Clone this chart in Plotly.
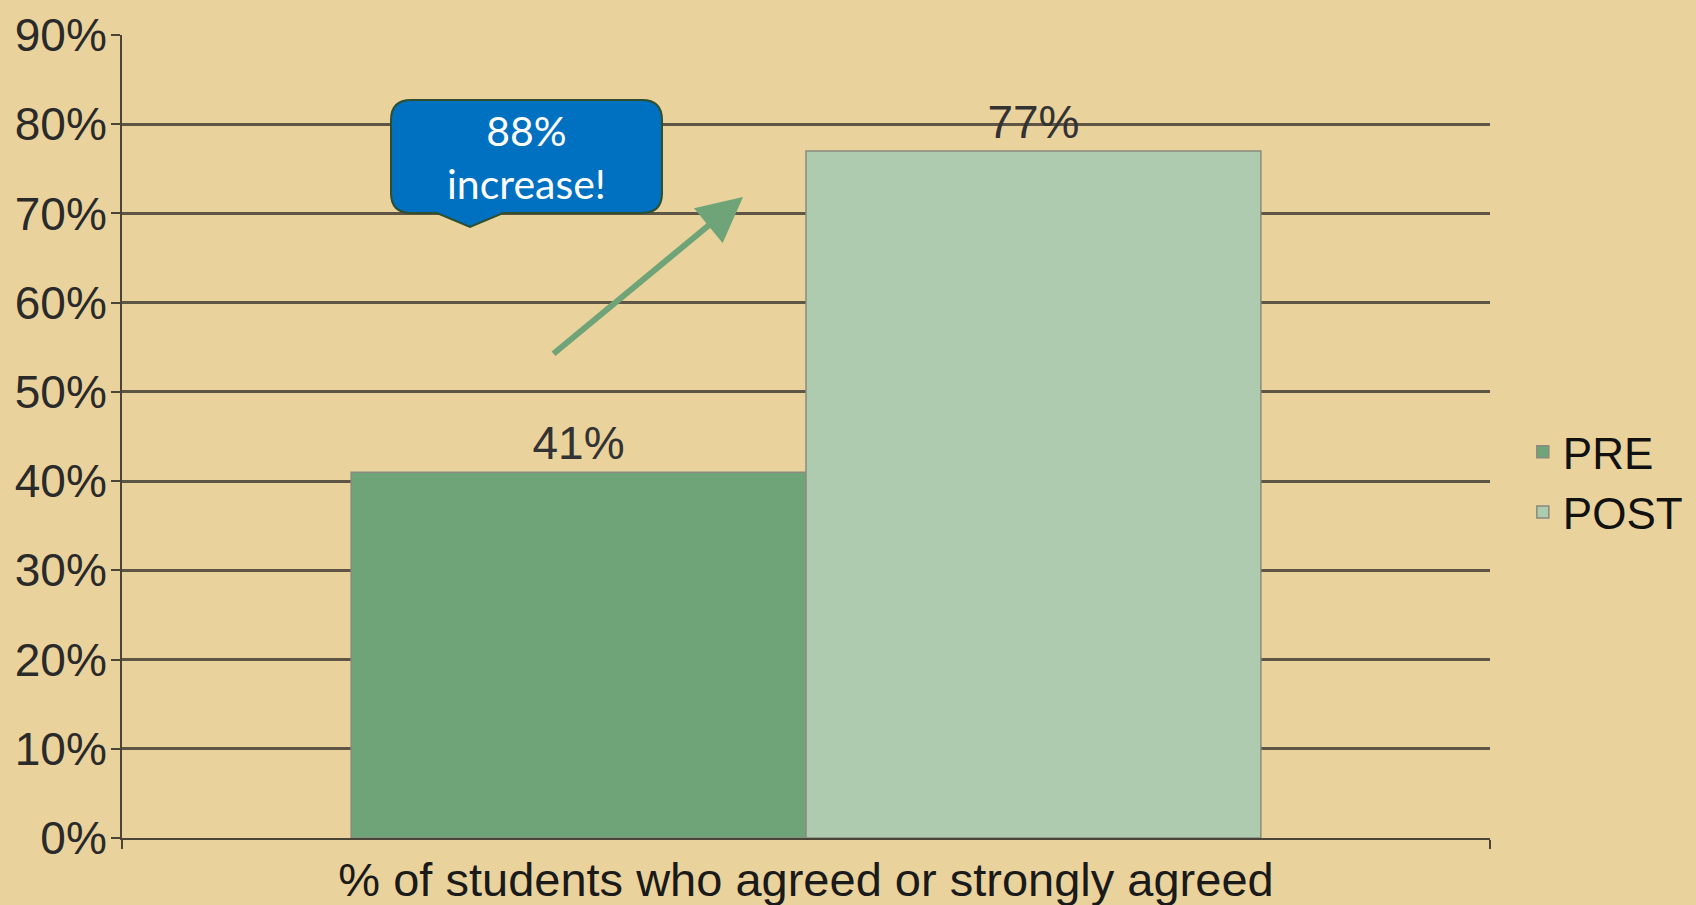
import plotly.graph_objects as go

categories = ["% of students who agreed or strongly agreed"]
series_names = ["PRE", "POST"]
pre_values = [41]
post_values = [77]
series_colors = ["#6FA378", "#AECBAF"]
y_ticks = [0, 10, 20, 30, 40, 50, 60, 70, 80, 90]
y_tick_labels = [f"{v}%" for v in y_ticks]
callout_text = "88%<br>increase!"

W, H = 1696, 905
L, R, T, B = 122, 206, 35, 67
PW, PH = W - L - R, H - T - B

def px(x):
    return (x - L) / PW

def py(y):
    return (H - B - y) / PH

fig = go.Figure()
for name, vals, col in zip(series_names, [pre_values, post_values], series_colors):
    fig.add_trace(go.Bar(
        name=name, x=categories, y=vals,
        marker=dict(color=col, line=dict(color="#8a8a80", width=1.5)),
        text=[f"{v}%" for v in vals], textposition="outside",
        textfont=dict(family="Liberation Sans, Arial", size=46, color="#333333"),
        cliponaxis=False,
    ))

# callout box with rounded corners and pointer
x0, x1, y0, y1, r = 391, 662, 100, 213, 20
tipx, tipy, bl, br = 470, 227, 437, 503
def P(x, y):
    return f"{px(x):.5f},{py(y):.5f}"
path = (
    f"M {P(x0 + r, y0)} L {P(x1 - r, y0)} Q {P(x1, y0)} {P(x1, y0 + r)} "
    f"L {P(x1, y1 - r)} Q {P(x1, y1)} {P(x1 - r, y1)} "
    f"L {P(br, y1)} L {P(tipx, tipy)} L {P(bl, y1)} "
    f"L {P(x0 + r, y1)} Q {P(x0, y1)} {P(x0, y1 - r)} "
    f"L {P(x0, y0 + r)} Q {P(x0, y0)} {P(x0 + r, y0)} Z"
)
fig.add_shape(type="path", path=path, xref="paper", yref="paper",
              fillcolor="#0070C0", line=dict(color="#2F4F2F", width=2), layer="above")
fig.add_annotation(x=px((x0 + x1) / 2), y=py((y0 + y1) / 2), xref="paper", yref="paper",
                   xanchor="center", yanchor="middle",
                   text=callout_text, showarrow=False,
                   font=dict(family="Lato", size=41, color="white"), align="center")

# green arrow
fig.add_annotation(x=px(743), y=py(197), xref="paper", yref="paper",
                   ax=552 - 743, ay=355 - 197, axref="pixel", ayref="pixel",
                   showarrow=True, arrowhead=2, arrowsize=1.5, arrowwidth=6,
                   arrowcolor="#6FA378", text="")

fig.update_layout(
    width=W, height=H,
    margin=dict(l=L, r=R, t=T, b=B, autoexpand=False),
    paper_bgcolor="#E9D29B",
    plot_bgcolor="#E9D29B",
    barmode="group", bargap=0.335, bargroupgap=0,
    font=dict(family="Liberation Sans, Arial", size=42, color="#2a2a2a"),
    legend=dict(x=1.024, y=0.443, xanchor="left", yanchor="middle",
                font=dict(size=44, color="#111"), bgcolor="rgba(0,0,0,0)",
                itemwidth=30, tracegroupgap=0),
    showlegend=True,
)
fig.update_yaxes(range=[0, 90], tickvals=y_ticks, ticktext=y_tick_labels,
                 automargin=False, ticklabelstandoff=-5,
                 showgrid=True, gridcolor="#5E5545", gridwidth=3,
                 showline=True, linecolor="#4a4538", linewidth=2,
                 ticks="outside", ticklen=9, tickcolor="#4a4538", tickwidth=2,
                 tickfont=dict(size=46, color="#2a2a2a"), zeroline=False)
fig.update_xaxes(showline=True, linecolor="#4a4538", linewidth=2, automargin=False,
                 ticks="outside", tickson="boundaries", ticklen=9,
                 tickcolor="#4a4538", tickwidth=2,
                 tickfont=dict(size=47, color="#1a1a1a"))

fig.write_html("out.html", config={"displayModeBar": False},
               post_script="document.body.style.margin='0';document.body.style.overflow='hidden';document.body.style.background='#E9D29B';")
